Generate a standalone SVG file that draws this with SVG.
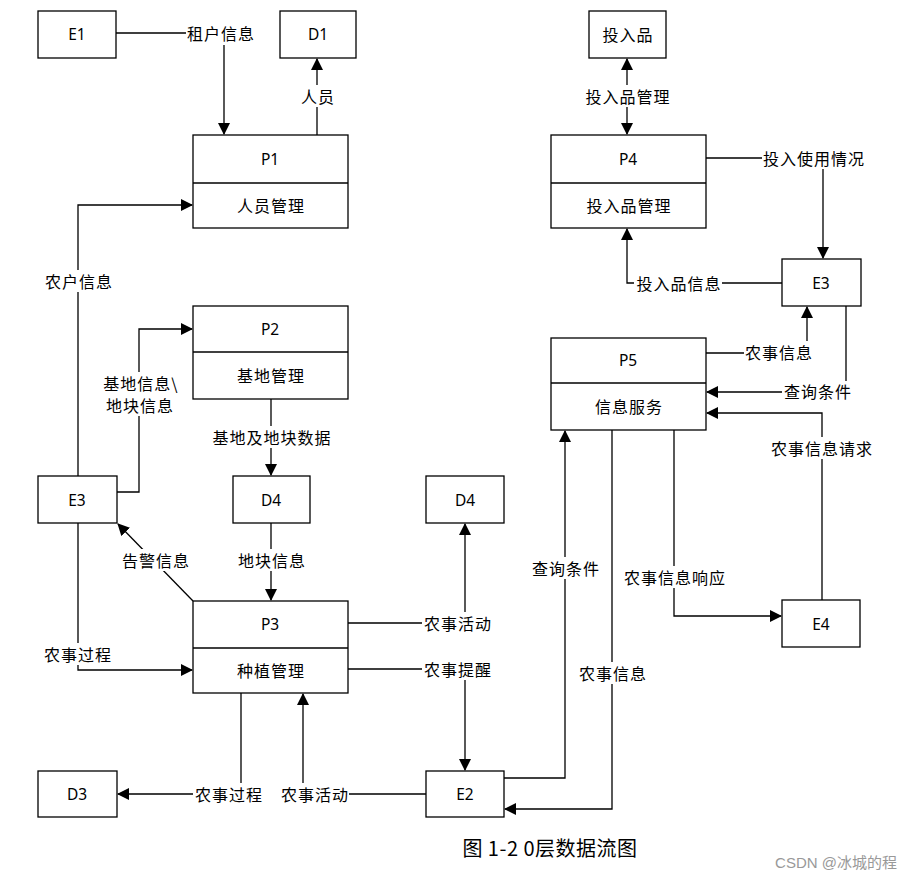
<svg xmlns="http://www.w3.org/2000/svg" width="922" height="883" viewBox="0 0 922 883">
<style>
.box{fill:#fff;stroke:#000;stroke-width:1.3}
.ln{fill:none;stroke:#000;stroke-width:1.3}
.id{font-family:"Noto Sans","Liberation Sans",sans-serif;font-size:15.5px;fill:#000;text-anchor:middle;dominant-baseline:central}
.t{font-family:"Noto Sans CJK SC","Noto Sans",sans-serif;font-size:16px;letter-spacing:1px;fill:#000;text-anchor:middle;dominant-baseline:central}
.bg{fill:#fff}
</style>
<defs>
<marker id="ah" markerUnits="userSpaceOnUse" markerWidth="12" markerHeight="12" viewBox="0 0 12 12" refX="11" refY="6" orient="auto">
<path d="M0,0 L12,6 L0,12 Z" fill="#000"/>
</marker>
</defs>
<rect width="922" height="883" fill="#fff"/>
<g id="connectors">
<path class="ln" d="M116,33 H224 V134" marker-end="url(#ah)"/>
<path class="ln" d="M317,135 V59" marker-end="url(#ah)"/>
<path class="ln" d="M78,476 V205 H192" marker-end="url(#ah)"/>
<path class="ln" d="M627,96 V59" marker-end="url(#ah)"/>
<path class="ln" d="M627,96 V134" marker-end="url(#ah)"/>
<path class="ln" d="M706,158 H823 V258" marker-end="url(#ah)"/>
<path class="ln" d="M782,283 H627 V229" marker-end="url(#ah)"/>
<path class="ln" d="M706,353 H807 V307" marker-end="url(#ah)"/>
<path class="ln" d="M846,306 V392 H707" marker-end="url(#ah)"/>
<path class="ln" d="M822,600 V413 H707" marker-end="url(#ah)"/>
<path class="ln" d="M674,430 V616 H781" marker-end="url(#ah)"/>
<path class="ln" d="M504,778 H565 V431" marker-end="url(#ah)"/>
<path class="ln" d="M612,430 V809 H505" marker-end="url(#ah)"/>
<path class="ln" d="M348,623 H465 V524" marker-end="url(#ah)"/>
<path class="ln" d="M348,669 H465 V770" marker-end="url(#ah)"/>
<path class="ln" d="M117,492 H139 V329 H192" marker-end="url(#ah)"/>
<path class="ln" d="M271,399 V475" marker-end="url(#ah)"/>
<path class="ln" d="M271,523 V600" marker-end="url(#ah)"/>
<path class="ln" d="M193,601 L118,524" marker-end="url(#ah)"/>
<path class="ln" d="M78,523 V670 H192" marker-end="url(#ah)"/>
<path class="ln" d="M241,693 V794 H118" marker-end="url(#ah)"/>
<path class="ln" d="M426,794 H303 V694" marker-end="url(#ah)"/>
</g>
<g id="labels">
<rect class="bg" x="186" y="23" width="68" height="22"/><text class="t" x="221" y="32.5">租户信息</text>
<rect class="bg" x="300" y="85" width="34" height="22"/><text class="t" x="318" y="95.5">人员</text>
<rect class="bg" x="43" y="270" width="70" height="22"/><text class="t" x="79" y="280.5">农户信息</text>
<rect class="bg" x="584" y="85" width="86" height="22"/><text class="t" x="628" y="95.5">投入品管理</text>
<rect class="bg" x="762" y="147" width="104" height="22"/><text class="t" x="814" y="157.5">投入使用情况</text>
<rect class="bg" x="634" y="272" width="88" height="22"/><text class="t" x="679" y="282.5">投入品信息</text>
<rect class="bg" x="744" y="341" width="68" height="22"/><text class="t" x="779" y="351.5">农事信息</text>
<rect class="bg" x="782" y="381" width="70" height="22"/><text class="t" x="818" y="390.5">查询条件</text>
<rect class="bg" x="768" y="437" width="106" height="22"/><text class="t" x="822" y="447.5">农事信息请求</text>
<rect class="bg" x="100" y="372" width="82" height="44"/><text class="t" x="141" y="382.5">基地信息\</text><text class="t" x="140" y="404.5">地块信息</text>
<rect class="bg" x="209" y="426" width="124" height="22"/><text class="t" x="272" y="436.5">基地及地块数据</text>
<rect class="bg" x="236" y="549" width="70" height="22"/><text class="t" x="272" y="559.5">地块信息</text>
<rect class="bg" x="120" y="549" width="70" height="22"/><text class="t" x="156" y="559.5">告警信息</text>
<rect class="bg" x="42" y="643" width="70" height="22"/><text class="t" x="78" y="653.5">农事过程</text>
<rect class="bg" x="422" y="612" width="70" height="22"/><text class="t" x="458" y="622.5">农事活动</text>
<rect class="bg" x="422" y="658" width="70" height="22"/><text class="t" x="458" y="668.5">农事提醒</text>
<rect class="bg" x="193" y="783" width="70" height="22"/><text class="t" x="229" y="793.5">农事过程</text>
<rect class="bg" x="279" y="783" width="70" height="22"/><text class="t" x="315" y="793.5">农事活动</text>
<rect class="bg" x="530" y="557" width="70" height="22"/><text class="t" x="566" y="567.5">查询条件</text>
<rect class="bg" x="577" y="662" width="70" height="22"/><text class="t" x="613" y="672.5">农事信息</text>
<rect class="bg" x="621" y="566" width="106" height="22"/><text class="t" x="675" y="576.5">农事信息响应</text>
</g>
<g id="E1"><rect class="box" x="38" y="11" width="78" height="47"/><text class="id" x="77" y="34">E1</text></g>
<g id="D1"><rect class="box" x="280" y="11" width="76" height="47"/><text class="id" x="318" y="34">D1</text></g>
<g id="P1"><rect class="box" x="193" y="135" width="155" height="93"/><line class="ln" x1="193" y1="183" x2="348" y2="183"/><text class="id" x="270" y="159">P1</text><text class="t" x="271" y="205">人员管理</text></g>
<g id="TRP"><rect class="box" x="589" y="11" width="77" height="47"/><text class="t" x="628" y="34">投入品</text></g>
<g id="P4"><rect class="box" x="551" y="135" width="155" height="93"/><line class="ln" x1="551" y1="183" x2="706" y2="183"/><text class="id" x="628" y="159">P4</text><text class="t" x="629" y="205">投入品管理</text></g>
<g id="E3R"><rect class="box" x="782" y="259" width="79" height="47"/><text class="id" x="821" y="283">E3</text></g>
<g id="P5"><rect class="box" x="551" y="338" width="155" height="92"/><line class="ln" x1="551" y1="383" x2="706" y2="383"/><text class="id" x="628" y="360">P5</text><text class="t" x="629" y="406">信息服务</text></g>
<g id="E4"><rect class="box" x="782" y="600" width="78" height="47"/><text class="id" x="821" y="624">E4</text></g>
<g id="P2"><rect class="box" x="193" y="306" width="155" height="93"/><line class="ln" x1="193" y1="352" x2="348" y2="352"/><text class="id" x="270" y="329">P2</text><text class="t" x="271" y="375">基地管理</text></g>
<g id="E3L"><rect class="box" x="38" y="476" width="79" height="47"/><text class="id" x="77" y="500">E3</text></g>
<g id="D4L"><rect class="box" x="233" y="476" width="77" height="47"/><text class="id" x="271" y="500">D4</text></g>
<g id="D4R"><rect class="box" x="426" y="476" width="78" height="47"/><text class="id" x="465" y="500">D4</text></g>
<g id="P3"><rect class="box" x="193" y="601" width="155" height="92"/><line class="ln" x1="193" y1="648" x2="348" y2="648"/><text class="id" x="270" y="624">P3</text><text class="t" x="271" y="670">种植管理</text></g>
<g id="D3"><rect class="box" x="38" y="771" width="79" height="46"/><text class="id" x="77" y="794">D3</text></g>
<g id="E2"><rect class="box" x="426" y="771" width="78" height="46"/><text class="id" x="465" y="794">E2</text></g>
<text x="550" y="847" font-family="Noto Sans CJK SC,Noto Sans,sans-serif" font-size="20" letter-spacing="0.5" text-anchor="middle" dominant-baseline="central" fill="#000">图 1-2 0层数据流图</text>
<text x="836" y="862" font-family="Liberation Sans,Noto Sans CJK SC,sans-serif" font-size="15" text-anchor="middle" dominant-baseline="central" fill="#999">CSDN @冰城的程</text>
</svg>
